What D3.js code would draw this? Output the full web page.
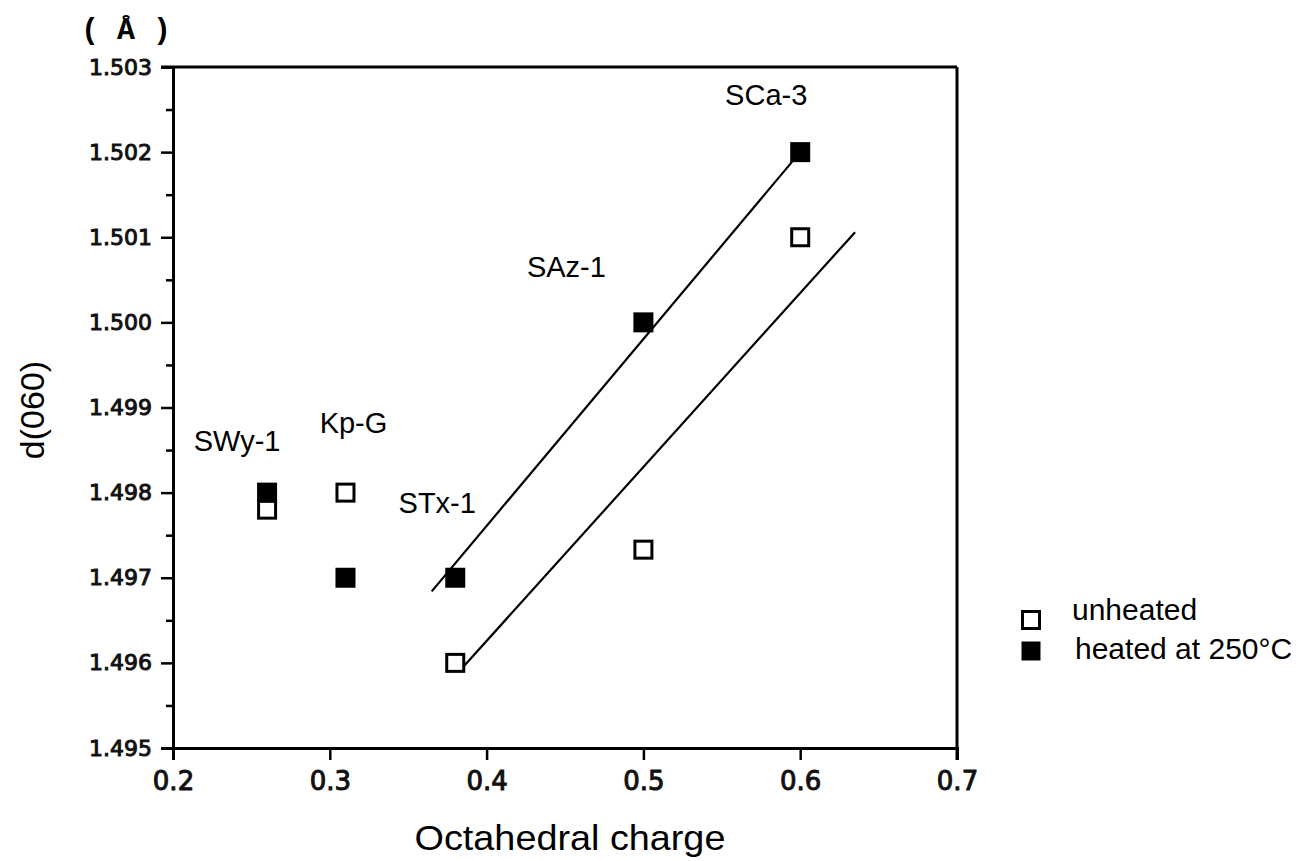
<!DOCTYPE html>
<html>
<head>
<meta charset="utf-8">
<script src="https://cdn.jsdelivr.net/npm/d3@7"></script>
<style>
  body { margin: 0; background: #fff; }
  svg { display: block; }
</style>
</head>
<body>
<div class="chart"></div>
<script>
// ======================================
// data
// ======================================
var samples   = ['SWy-1', 'Kp-G', 'STx-1', 'SAz-1', 'SCa-3'];
var charge    = [0.26, 0.31, 0.38, 0.50, 0.60];
var unheated  = [1.4978, 1.4980, 1.4960, 1.49733, 1.5010];
var heated    = [1.4980, 1.4970, 1.4970, 1.5000, 1.5020];

var xTicks = [0.2, 0.3, 0.4, 0.5, 0.6, 0.7];
var yTicks = [1.495, 1.496, 1.497, 1.498, 1.499, 1.500, 1.501, 1.502, 1.503];
var yMinor = [1.4955, 1.4965, 1.4975, 1.4985, 1.4995, 1.5005, 1.5015, 1.5025];

// hand-drawn trend lines (charge, d060) end points
var heatedLine   = [[0.365, 1.49684], [0.600, 1.5020]];
var unheatedLine = [[0.383, 1.49591], [0.635, 1.50106]];

var legendLabels = ['unheated', 'heated at 250\u00B0C'];

// ======================================
// layout
// ======================================
var W = 1313, H = 861;
var plot = { left: 173, right: 957, top: 67, bottom: 748 };
// label offsets (px) from the upper marker of each sample
var labelOffset = [[-30, -42], [8, -60], [-18, -65], [-77, -45], [-34, -47]];
var font = '"Liberation Sans", Arial, Helvetica, sans-serif';
var tickFont = '"DejaVu Sans", sans-serif';

var svg = d3.select('.chart')
   .append('svg')
   .attr('width', W)
   .attr('height', H);

var x = d3.scaleLinear().domain([0.2, 0.7]).range([plot.left, plot.right]);
var y = d3.scaleLinear().domain([1.495, 1.503]).range([plot.bottom, plot.top]);

// ======================================
// axes and frame
// ======================================
var xAxis = svg.append('g')
   .attr('transform', 'translate(0,' + plot.bottom + ')')
   .call(d3.axisBottom(x).tickValues(xTicks).tickSize(12).tickPadding(12)
      .tickFormat(d3.format('.1f')));
xAxis.selectAll('.tick text').style('font-size', '26px');

var yAxis = svg.append('g')
   .attr('transform', 'translate(' + plot.left + ',0)')
   .call(d3.axisLeft(y).tickValues(yTicks).tickSize(12).tickPadding(9)
      .tickFormat(d3.format('.3f')));
yAxis.selectAll('.tick text').style('font-size', '22px');

svg.append('g')
   .attr('transform', 'translate(' + plot.left + ',0)')
   .call(d3.axisLeft(y).tickValues(yMinor).tickSize(7).tickFormat(''))
   .call(function(g){ g.select('.domain').remove(); });

svg.selectAll('.domain').attr('stroke-width', 3).attr('stroke', '#000');
svg.selectAll('.tick line').attr('stroke-width', 2.5).attr('stroke', '#000');
svg.selectAll('.tick text')
   .attr('font-family', tickFont)
   .attr('fill', '#111')
   .attr('stroke', '#111')
   .attr('stroke-width', 1);

// top and right edges of the box
svg.append('line')
   .attr('x1', plot.left - 12).attr('x2', plot.right)
   .attr('y1', plot.top).attr('y2', plot.top)
   .attr('stroke', '#000').attr('stroke-width', 3);
svg.append('line')
   .attr('x1', plot.right).attr('x2', plot.right)
   .attr('y1', plot.top).attr('y2', plot.bottom + 12)
   .attr('stroke', '#000').attr('stroke-width', 3);

// ======================================
// titles
// ======================================
svg.append('text')
   .text('( \u00C5 )')
   .attr('x', 81).attr('y', 39)
   .attr('font-family', '"Liberation Mono", "DejaVu Sans Mono", monospace')
   .attr('font-weight', 'bold')
   .attr('font-size', '30px')
   .attr('xml:space', 'preserve');

svg.append('text')
   .text('Octahedral charge')
   .attr('transform', 'translate(' + 570 + ',850) scale(1.08,1)')
   .attr('text-anchor', 'middle')
   .attr('font-family', font)
   .attr('font-size', '35px');

svg.append('text')
   .text('d(060)')
   .attr('transform', 'translate(44,410) rotate(-90)')
   .attr('text-anchor', 'middle')
   .attr('font-family', font)
   .attr('font-size', '34px');

// ======================================
// trend lines
// ======================================
var line = d3.line()
   .x(function(d){ return x(d[0]); })
   .y(function(d){ return y(d[1]); });

svg.selectAll('path.fit')
   .data([heatedLine, unheatedLine])
   .enter()
   .append('path')
   .attr('class', 'fit')
   .attr('d', line)
   .attr('fill', 'none')
   .attr('stroke', '#000')
   .attr('stroke-width', 2.2);

// ======================================
// markers
// ======================================
var open = 17, full = 20;

svg.selectAll('rect.unheated')
   .data(charge)
   .enter()
   .append('rect')
   .attr('class', 'unheated')
   .attr('x', function(d){ return x(d) - open / 2; })
   .attr('y', function(d, i){ return y(unheated[i]) - open / 2; })
   .attr('width', open).attr('height', open)
   .attr('fill', '#fff')
   .attr('stroke', '#000')
   .attr('stroke-width', 3);

svg.selectAll('rect.heated')
   .data(charge)
   .enter()
   .append('rect')
   .attr('class', 'heated')
   .attr('x', function(d){ return x(d) - full / 2; })
   .attr('y', function(d, i){ return y(heated[i]) - full / 2; })
   .attr('width', full).attr('height', full)
   .attr('fill', '#000');

// ======================================
// sample names
// ======================================
svg.selectAll('text.sample')
   .data(samples)
   .enter()
   .append('text')
   .attr('class', 'sample')
   .text(function(d){ return d; })
   .attr('x', function(d, i){ return x(charge[i]) + labelOffset[i][0]; })
   .attr('y', function(d, i){
      return y(Math.max(heated[i], unheated[i])) + labelOffset[i][1];
   })
   .attr('text-anchor', 'middle')
   .attr('font-family', font)
   .attr('font-size', '29px');

// ======================================
// legend
// ======================================
var legend = svg.append('g').attr('transform', 'translate(1031,0)');

legend.append('rect')
   .attr('x', -open / 2).attr('y', 620 - open / 2)
   .attr('width', open).attr('height', open)
   .attr('fill', '#fff').attr('stroke', '#000').attr('stroke-width', 3);
legend.append('rect')
   .attr('x', -9.5).attr('y', 651 - 9.5)
   .attr('width', 19).attr('height', 19)
   .attr('fill', '#000');

legend.selectAll('text')
   .data(legendLabels)
   .enter()
   .append('text')
   .text(function(d){ return d; })
   .attr('x', function(d, i){ return i === 0 ? 41 : 44; })
   .attr('y', function(d, i){ return 620 + i * 39; })
   .attr('font-family', font)
   .attr('font-size', '30px');
</script>
</body>
</html>
